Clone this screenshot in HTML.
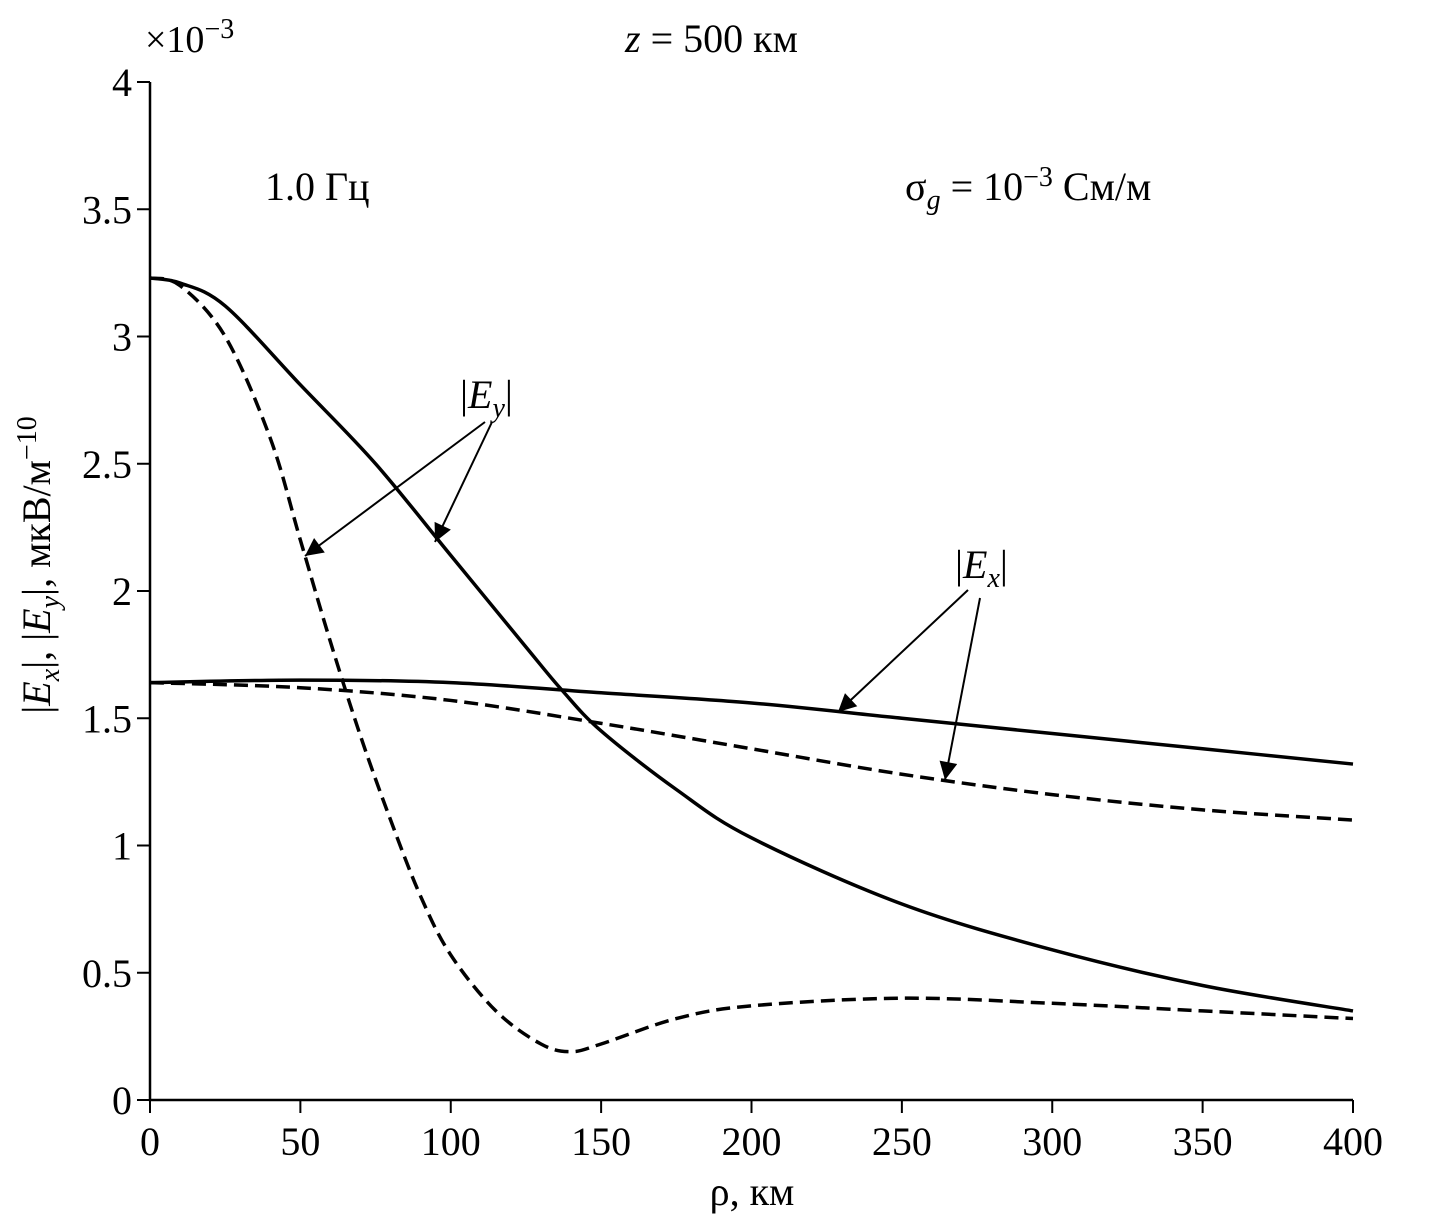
<!DOCTYPE html>
<html><head><meta charset="utf-8"><style>
body{margin:0;background:#fff}
svg text{font-family:"Liberation Serif",serif;fill:#000}
</style></head><body>
<svg width="1443" height="1224" viewBox="0 0 1443 1224">
<defs><marker id="ah2" viewBox="0 0 10 10" refX="10" refY="5" markerWidth="28" markerHeight="18" markerUnits="userSpaceOnUse" orient="auto"><path d="M0,0L10,5L0,10z" fill="#000"/></marker></defs>
<g id="axes"></g>
<g id="plot"></g>
<text x="145" y="52" font-size="38">×10<tspan dy="-14" font-size="28">−3</tspan></text>
<text x="625" y="52" font-size="40"><tspan font-style="italic">z</tspan> = 500 км</text>
<text x="265" y="200" font-size="40">1.0 Гц</text>
<text x="905" y="200" font-size="40">σ<tspan font-style="italic" font-size="28" dy="9">g</tspan><tspan dy="-9"> = 10</tspan><tspan dy="-14" font-size="28">−3</tspan><tspan dy="14"> См/м</tspan></text>
<text x="752" y="1205" font-size="40" text-anchor="middle">ρ, км</text>
<text transform="translate(50,565) rotate(-90)" font-size="40" text-anchor="middle">|<tspan font-style="italic">E<tspan font-size="28" dy="9">x</tspan></tspan><tspan dy="-9">|, |</tspan><tspan font-style="italic">E<tspan font-size="28" dy="9">y</tspan></tspan><tspan dy="-9">|, мкВ/м</tspan><tspan dy="-14" font-size="28">−10</tspan></text>
<text x="460" y="408" font-size="40">|<tspan font-style="italic">E<tspan font-size="28" dy="9">y</tspan></tspan><tspan dy="-9">|</tspan></text>
<text x="955" y="578" font-size="40">|<tspan font-style="italic">E<tspan font-size="28" dy="9">x</tspan></tspan><tspan dy="-9">|</tspan></text>
<g stroke="#000" stroke-width="2" fill="none">
<line x1="485" y1="422" x2="305" y2="556" marker-end="url(#ah2)"/>
<line x1="492" y1="422" x2="435" y2="542" marker-end="url(#ah2)"/>
<line x1="968" y1="590" x2="838" y2="712" marker-end="url(#ah2)"/>
<line x1="980" y1="598" x2="945" y2="780" marker-end="url(#ah2)"/>
</g>
</svg>
<script>
const xTicks=[0,50,100,150,200,250,300,350,400];
const yTicks=[0,0.5,1,1.5,2,2.5,3,3.5,4];
const yTickLabels=["0","0.5","1","1.5","2","2.5","3","3.5","4"];
const rhoEySolid=[0,10,25,50,75,100,125,137,150,175,200,250,300,350,400];
const eySolid=[3.23,3.21,3.12,2.81,2.5,2.14,1.78,1.61,1.45,1.22,1.03,0.77,0.59,0.45,0.35];
const rhoEyDash=[0,10,25,40,50,60,70,80,90,100,115,130,140,150,175,200,250,300,350,400];
const eyDash=[3.23,3.2,3.0,2.6,2.2,1.8,1.43,1.1,0.8,0.57,0.35,0.22,0.19,0.22,0.32,0.37,0.4,0.38,0.35,0.32];
const rhoEx=[0,50,100,150,200,250,300,350,400];
const exSolid=[1.64,1.65,1.64,1.6,1.56,1.5,1.44,1.38,1.32];
const exDash=[1.64,1.62,1.57,1.48,1.38,1.28,1.2,1.14,1.1];
const NS="http://www.w3.org/2000/svg";
const X=v=>150+v*1203/400, Y=v=>1100-v*254.5;
const axes=document.getElementById('axes'), plot=document.getElementById('plot');
function mk(t,a,p){const e=document.createElementNS(NS,t);for(const k in a)e.setAttribute(k,a[k]);p.appendChild(e);return e;}
let ax=mk('path',{d:`M150,82V1100H${X(400)}`,stroke:'#000','stroke-width':2.5,fill:'none'},axes);


xTicks.forEach(v=>{
 const l=mk('line',{x1:X(v),x2:X(v),y1:1100,y2:1113,stroke:'#000','stroke-width':2},axes);
 
 
 const t=mk('text',{x:X(v),y:1155,'font-size':40,'text-anchor':'middle'},axes);t.textContent=v;
 
 
});
yTicks.forEach((v,i)=>{
 const l=mk('line',{x1:137,x2:150,y1:Y(v),y2:Y(v),stroke:'#000','stroke-width':2},axes);
 
 
 const t=mk('text',{x:132,y:Y(v)+14,'font-size':40,'text-anchor':'end'},axes);t.textContent=yTickLabels[i];
 
 
});
function curve(xs,ys){const p=xs.map((x,i)=>[X(x),Y(ys[i])]);let d=`M${p[0]}`;
 for(let i=0;i<p.length-1;i++){const p0=p[Math.max(0,i-1)],p1=p[i],p2=p[i+1],p3=p[Math.min(p.length-1,i+2)];
 d+=`C${p1[0]+(p2[0]-p0[0])/6},${p1[1]+(p2[1]-p0[1])/6} ${p2[0]-(p3[0]-p1[0])/6},${p2[1]-(p3[1]-p1[1])/6} ${p2[0]},${p2[1]}`;}return d;}
function line(xs,ys,dash,name){const e=mk('path',{d:curve(xs,ys),stroke:'#000','stroke-width':3.5,fill:'none'},plot);
 if(dash)e.setAttribute('stroke-dasharray','14 7');
 
 }
line(rhoEySolid,eySolid,false,'ey-solid-line');
line(rhoEyDash,eyDash,true,'ey-dashed-line');
line(rhoEx,exSolid,false,'ex-solid-line');
line(rhoEx,exDash,true,'ex-dashed-line');
</script>
</body></html>
